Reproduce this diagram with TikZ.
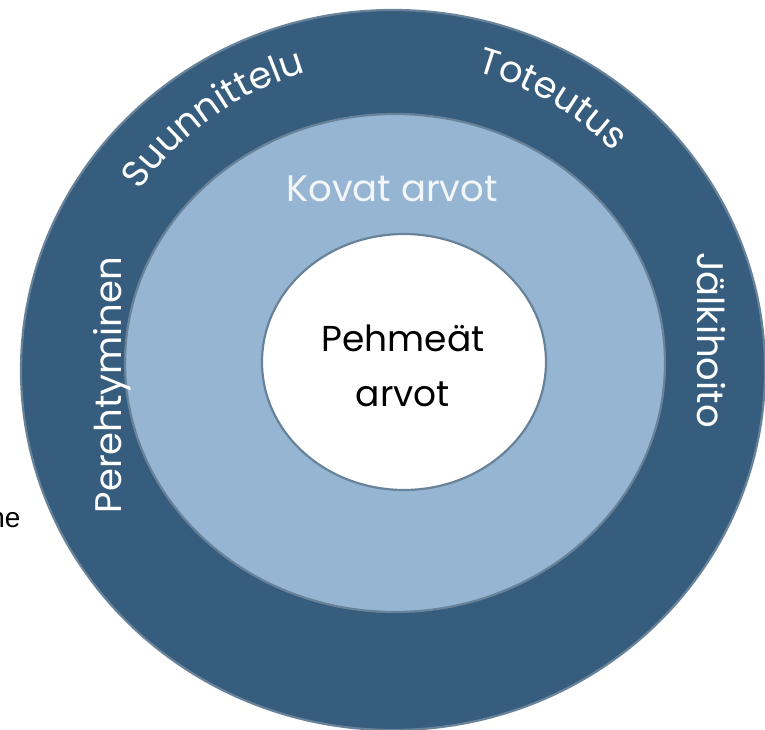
\documentclass[tikz,border=0pt]{standalone}
\usepackage{fontspec}
\setmainfont{Poppins}
\newfontfamily\sidefont{Liberation Sans}
\usetikzlibrary{calc,decorations.text}

\definecolor{ringdark}{RGB}{54,93,125}
\definecolor{ringlight}{RGB}{149,181,211}
\definecolor{ringedge}{RGB}{104,131,153}
\definecolor{softwhite}{RGB}{243,246,249}
\newcommand{\ringfont}{\fontsize{37}{40}\selectfont}

\tikzset{
  ring/.style={draw=ringedge, line width=2.2pt},
  ringtext/.style={font=\ringfont, text=white},
  arctext/.style={decorate, decoration={text along path, text color=white, text align=center, text={|\ringfont|#1}}}
}

\begin{document}
\begin{tikzpicture}[x=1pt,y=1pt]

  \useasboundingbox (-393,-360) rectangle (372,370);
  \coordinate (centro) at (0,0);

  \draw[ring, fill=ringdark] (centro) ellipse [x radius=372, y radius=360];
  \draw[ring, fill=ringlight] ($(centro)+(2,7)$) ellipse [x radius=270, y radius=249];
  \draw[ring, fill=white] ($(centro)+(11,8)$) ellipse [x radius=142, y radius=128];

  \node (kovat) at (-1,168) [anchor=base, font=\ringfont, text=softwhite] {Kovat arvot};
  \node (pehmeat) at (10,4) [align=center, font=\fontsize{36}{55}\selectfont] {Pehmeät\\arvot};

  % kehan tekstit
  \node (pereh) at (-281,-15) [ringtext, rotate=90] {Perehtyminen};
  \node (jalki) at (318,30) [ringtext, rotate=-90] {Jälkihoito};
  \path[arctext=Suunnittelu] (150:310) arc [start angle=150, end angle=101, radius=310];
  \path[arctext=Toteutus] (84:310) arc [start angle=84, end angle=35, radius=310];

  \node (reuna) at (-369,-157) [anchor=base east, font=\sidefont\fontsize{28}{32}\selectfont] {ne};
\end{tikzpicture}
\end{document}
